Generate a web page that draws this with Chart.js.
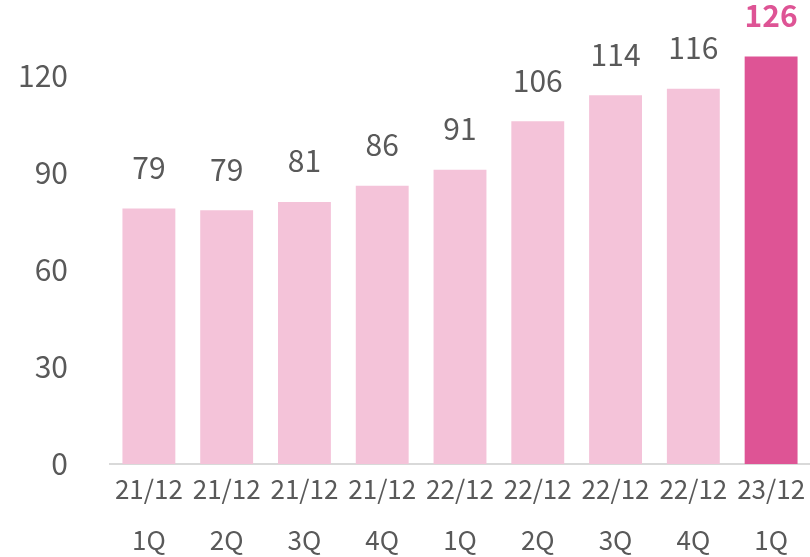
<!DOCTYPE html>
<html>
<head>
<meta charset="utf-8">
<script src="https://cdn.jsdelivr.net/npm/chart.js@4"></script>
<style>
  html, body { margin: 0; padding: 0; background: #fff; }
  #wrap { width: 810px; height: 557px; }
</style>
</head>
<body>
<div id="wrap"><canvas id="myChart" width="810" height="557"></canvas></div>
<script>

// ---- data --------------------------------------------------------
var periods  = ['21/12', '21/12', '21/12', '21/12', '22/12', '22/12', '22/12', '22/12', '23/12'];
var quarters = ['1Q', '2Q', '3Q', '4Q', '1Q', '2Q', '3Q', '4Q', '1Q'];
var values   = [79, 78.5, 81, 86, 91, 106, 114, 116, 126];
var value_labels = ['79', '79', '81', '86', '91', '106', '114', '116', '126'];
var y_ticks  = [0, 30, 60, 90, 120];

var color_light = '#f4c3d9';
var color_dark  = '#de5495';
var text_gray   = '#595959';
var font_name   = '"Noto Sans CJK JP", "Noto Sans", sans-serif';

// ------------------------------------------------------------------

var labels = [];
var bar_colors = [];
for (let i = 0; i < periods.length; i++) {
    labels.push([periods[i], quarters[i]]);
    if (i == periods.length - 1) bar_colors.push(color_dark);
    else bar_colors.push(color_light);
}

// value labels above the bars
const top_labels = {
    id: 'top_labels',
    afterDatasetsDraw(chart) {
        const ctx = chart.ctx;
        const meta = chart.getDatasetMeta(0);
        ctx.save();
        ctx.textAlign = 'center';
        ctx.textBaseline = 'middle';
        for (let i = 0; i < meta.data.length; i++) {
            const bar = meta.data[i];
            if (i == meta.data.length - 1) {
                ctx.font = 'bold 30px ' + font_name;
                ctx.fillStyle = color_dark;
            } else {
                ctx.font = '30px ' + font_name;
                ctx.fillStyle = text_gray;
            }
            ctx.fillText(value_labels[i], bar.x, bar.y - 41);
        }
        ctx.restore();
    }
};

const ctx = document.getElementById('myChart');

const kpi_chart = new Chart(ctx, {
    type: 'bar',
    data: {
        labels: labels,
        datasets: [{
            data: values,
            backgroundColor: bar_colors,
            borderWidth: 0,
            categoryPercentage: 1.0,
            barPercentage: 0.68
        }]
    },
    options: {
        responsive: false,
        animation: false,
        layout: { padding: { top: 8, right: 0, left: 0, bottom: 0 } },
        plugins: {
            legend: { display: false },
            tooltip: { enabled: false }
        },
        scales: {
            x: {
                grid: { display: false, drawTicks: false },
                border: { display: true, color: '#d9d9d9', width: 2 },
                ticks: {
                    color: text_gray,
                    font: { family: font_name, size: 26, lineHeight: '51px' },
                    padding: 0,
                    maxRotation: 0,
                    autoSkip: false
                },
                afterFit(scale) { scale.height = 93; }
            },
            y: {
                min: 0,
                max: 141,
                grid: { display: false, drawTicks: false },
                border: { display: false },
                ticks: {
                    stepSize: 30,
                    color: text_gray,
                    font: { family: font_name, size: 30 },
                    padding: 42,
                    callback: function(v) {
                        return y_ticks.indexOf(v) >= 0 ? String(v) : '';
                    }
                },
                afterFit(scale) {
                    scale.width = 110;
                    // tick padding would otherwise push the plot area down
                    scale.paddingTop = 0;
                    scale.paddingBottom = 0;
                }
            }
        }
    },
    plugins: [top_labels]
});

</script>
</body>
</html>
